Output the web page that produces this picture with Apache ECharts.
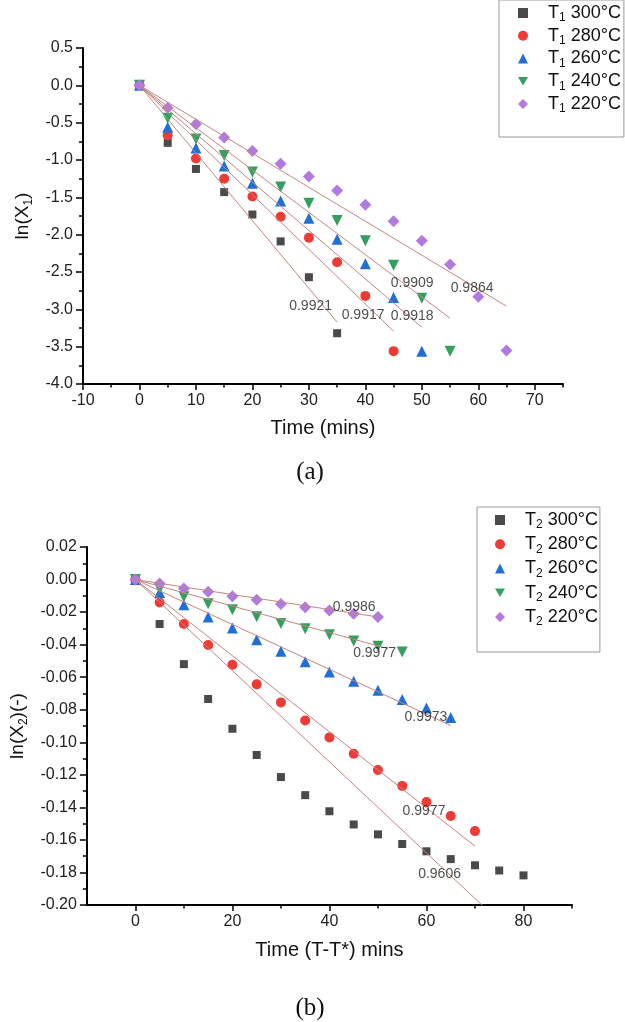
<!DOCTYPE html>
<html><head><meta charset="utf-8">
<script src="https://cdn.jsdelivr.net/npm/echarts@6/dist/echarts.min.js"></script>
<style>html,body{margin:0;padding:0;background:#fff}#c{width:625px;height:1022px}</style>
</head><body><div id="c"></div>
<script>
// ---------- DATA ----------
const time1 = [0,5,10,15,20,25,30,35,40,45,50,55,60,65];
const names1 = ['T1 300°C','T1 280°C','T1 260°C','T1 240°C','T1 220°C'];
const lnX1_300 = [0,-0.77,-1.12,-1.43,-1.73,-2.09,-2.57,-3.32];
const lnX1_280 = [0,-0.67,-0.98,-1.25,-1.49,-1.76,-2.04,-2.37,-2.82,-3.56];
const lnX1_260 = [0,-0.56,-0.84,-1.08,-1.31,-1.55,-1.78,-2.06,-2.39,-2.84,-3.56];
const lnX1_240 = [0,-0.44,-0.72,-0.94,-1.16,-1.36,-1.58,-1.81,-2.08,-2.41,-2.85,-3.56];
const lnX1_220 = [0,-0.30,-0.52,-0.70,-0.88,-1.05,-1.22,-1.41,-1.60,-1.82,-2.08,-2.40,-2.83,-3.55];
const fitSlope1 = [-0.0906,-0.0732,-0.0648,-0.0567,-0.0455];
const fitEnd1 = [35,45,50,55,65];
const r2Top = ['0.9921','0.9917','0.9918','0.9909','0.9864'];
const r2TopAt = [[30.3,-2.96],[39.6,-3.08],[48.3,-3.09],[48.3,-2.65],[58.9,-2.71]];
const xTicks1 = [-10,0,10,20,30,40,50,60,70];
const xMinor1 = [-5,5,15,25,35,45,55,65,75];

const time2 = [0,5,10,15,20,25,30,35,40,45,50,55,60,65,70,75,80];
const names2 = ['T2 300°C','T2 280°C','T2 260°C','T2 240°C','T2 220°C'];
const lnX2_300 = [0,-0.0273,-0.052,-0.0734,-0.0917,-0.1078,-0.1214,-0.1325,-0.1424,-0.1505,-0.1566,-0.1625,-0.167,-0.1718,-0.1756,-0.1788,-0.1818];
const lnX2_280 = [0,-0.0141,-0.0273,-0.0402,-0.0524,-0.0644,-0.0755,-0.0866,-0.097,-0.107,-0.117,-0.1268,-0.1367,-0.1453,-0.1546];
const lnX2_260 = [0,-0.008,-0.0155,-0.023,-0.0297,-0.037,-0.044,-0.0505,-0.0568,-0.0625,-0.068,-0.0737,-0.079,-0.0847];
const lnX2_240 = [0,-0.0056,-0.0105,-0.0148,-0.0186,-0.0229,-0.027,-0.0303,-0.034,-0.0377,-0.041,-0.0445];
const lnX2_220 = [0,-0.0025,-0.0055,-0.0075,-0.0103,-0.0124,-0.015,-0.017,-0.019,-0.021,-0.023];
const fitSlope2 = [-0.0028,-0.00234,-0.00138,-0.000815,-0.00046];
const fitEnd2 = [72,70,65,52,50];
const r2Bot = ['0.9606','0.9977','0.9973','0.9977','0.9986'];
const r2BotAt = [[62.7,-0.181],[59.5,-0.1423],[59.9,-0.0847],[49.3,-0.0454],[45.1,-0.0172]];
const xTicks2 = [0,20,40,60,80];
const xMinor2 = [10,30,50,70,90];

// ---------- STYLE ----------
const FONT = '"Liberation Sans", Arial, sans-serif';
const colors = ['#4a4a4a','#ee3b36','#1f6fd6','#35a05e','#b27ae0'];
const symbols = ['rect','circle','triangle','path://M0,0L10,0L5,8.66Z','diamond'];
const sizes = [8,10,11,11,12];
const fitColor = '#c4857f';

const top1 = [lnX1_300,lnX1_280,lnX1_260,lnX1_240,lnX1_220];
const bot2 = [lnX2_300,lnX2_280,lnX2_260,lnX2_240,lnX2_220];
const pair = (t, v) => v.map((y, i) => [t[i], y]);

const richLeg = {
  sp: {width: 15, fontSize: 18, lineHeight: 22},
  a: {fontSize: 18, lineHeight: 22, fontFamily: FONT, color: '#111'},
  s: {fontSize: 12, lineHeight: 14, verticalAlign: 'bottom', fontFamily: FONT, color: '#111'}
};
const legFmt = name => {
  const m = name.match(/^T(\d) (.*)$/);
  return '{sp| }{a|T}{s|' + m[1] + '}{a| ' + m[2] + '}';
};
const richName = {
  a: {fontSize: 19, lineHeight: 24, fontFamily: FONT, color: '#111'},
  s: {fontSize: 12, lineHeight: 16, verticalAlign: 'bottom', fontFamily: FONT, color: '#111'}
};

function xAx(grid, min, max, ticks, minor, name, gap) {
  return [{
    gridIndex: grid, type: 'value', position: 'bottom', min: min, max: max, interval: 10,
    axisLine: {show: true, onZero: false, lineStyle: {color: '#000', width: 2}},
    axisTick: {show: true, length: 6, customValues: ticks, lineStyle: {color: '#000', width: 1.5}},
    axisLabel: {customValues: ticks, fontSize: 16, margin: 9, color: '#222', fontFamily: FONT},
    splitLine: {show: false},
    name: name, nameLocation: 'middle', nameGap: gap,
    nameTextStyle: {fontSize: 20, color: '#111', fontFamily: FONT}
  }, {
    gridIndex: grid, type: 'value', position: 'bottom', offset: 0, min: min, max: max, interval: 10,
    axisLine: {show: false, onZero: false},
    axisTick: {show: true, length: 3.5, customValues: minor, lineStyle: {color: '#000', width: 1.5}},
    axisLabel: {show: false}, splitLine: {show: false}
  }];
}
function yAx(grid, min, max, itv, dec, name, gap) {
  return {
    gridIndex: grid, type: 'value', min: min, max: max, interval: itv,
    axisLine: {show: true, onZero: false, lineStyle: {color: '#000', width: 2}},
    axisTick: {show: true, length: 7, lineStyle: {color: '#000', width: 1.5}},
    minorTick: {show: true, splitNumber: 2, length: 4, lineStyle: {color: '#000', width: 1.5}},
    axisLabel: {fontSize: 16, margin: 10, color: '#222', fontFamily: FONT,
      formatter: v => (Math.abs(v) < 1e-9 ? 0 : v).toFixed(dec)},
    splitLine: {show: false}, minorSplitLine: {show: false},
    name: name, nameLocation: 'middle', nameGap: gap,
    nameTextStyle: {rich: richName}
  };
}

const series = [];
function addPanel(xi, yi, times, sets, names, slopes, ends, r2, r2At) {
  sets.forEach((vals, i) => series.push({
    type: 'scatter', name: names[i], xAxisIndex: xi, yAxisIndex: yi,
    symbol: symbols[i], symbolSize: sizes[i], itemStyle: {color: colors[i], opacity: 1},
    data: pair(times, vals)
  }));
  slopes.forEach((s, i) => series.push({
    type: 'line', xAxisIndex: xi, yAxisIndex: yi, silent: true, symbol: 'none', clip: true,
    lineStyle: {color: fitColor, width: 1},
    data: [[0, 0], [ends[i], s * ends[i]]]
  }));
  series.push({
    type: 'scatter', xAxisIndex: xi, yAxisIndex: yi, silent: true, symbolSize: 1,
    itemStyle: {color: 'rgba(0,0,0,0)'}, z: 5,
    label: {show: true, position: 'inside', formatter: '{b}', fontSize: 14, color: '#222', fontFamily: FONT},
    data: r2.map((r, i) => ({name: r, value: r2At[i]}))
  });
}
addPanel(0, 0, time1, top1, names1, fitSlope1, fitEnd1, r2Top, r2TopAt);
addPanel(2, 1, time2, bot2, names2, fitSlope2, fitEnd2, r2Bot, r2BotAt);

const option = {
  animation: false,
  backgroundColor: '#fff',
  grid: [
    {left: 83, top: 48, width: 480, height: 336},
    {left: 78, top: 547, width: 494, height: 358}
  ],
  xAxis: [].concat(
    xAx(0, -10, 75, xTicks1, xMinor1, 'Time (mins)', 34),
    xAx(1, -10, 90, xTicks2, xMinor2, 'Time (T-T*) mins', 35)
  ),
  yAxis: [
    yAx(0, -4, 0.5, 0.5, 1, '{a|ln(X}{s|1}{a|)}', 40),
    yAx(1, -0.2, 0.02, 0.02, 2, '{a|ln(X}{s|2}{a|)(-)}', 57)
  ],
  legend: [
    {data: names1, orient: 'vertical', left: 499, top: 0, padding: [4, 3, 22, 19], itemGap: 2.75,
     itemWidth: 10, itemHeight: 10, borderColor: '#999', borderWidth: 1,
     formatter: legFmt, textStyle: {rich: richLeg}},
    {data: names2, orient: 'vertical', left: 477, top: 507, padding: [4, 2, 24, 18], itemGap: 4.25,
     itemWidth: 10, itemHeight: 10, borderColor: '#999', borderWidth: 1,
     formatter: legFmt, textStyle: {rich: richLeg}}
  ],
  graphic: [
    {type: 'text', x: 310, y: 472, style: {text: '(a)', fontSize: 25, fontFamily: '"Liberation Serif", "Times New Roman", serif', fill: '#111', align: 'center', verticalAlign: 'middle'}},
    {type: 'text', x: 310, y: 1008, style: {text: '(b)', fontSize: 25, fontFamily: '"Liberation Serif", "Times New Roman", serif', fill: '#111', align: 'center', verticalAlign: 'middle'}}
  ],
  series: series
};
echarts.init(document.getElementById('c'), null, {renderer: 'canvas'}).setOption(option);
</script></body></html>
